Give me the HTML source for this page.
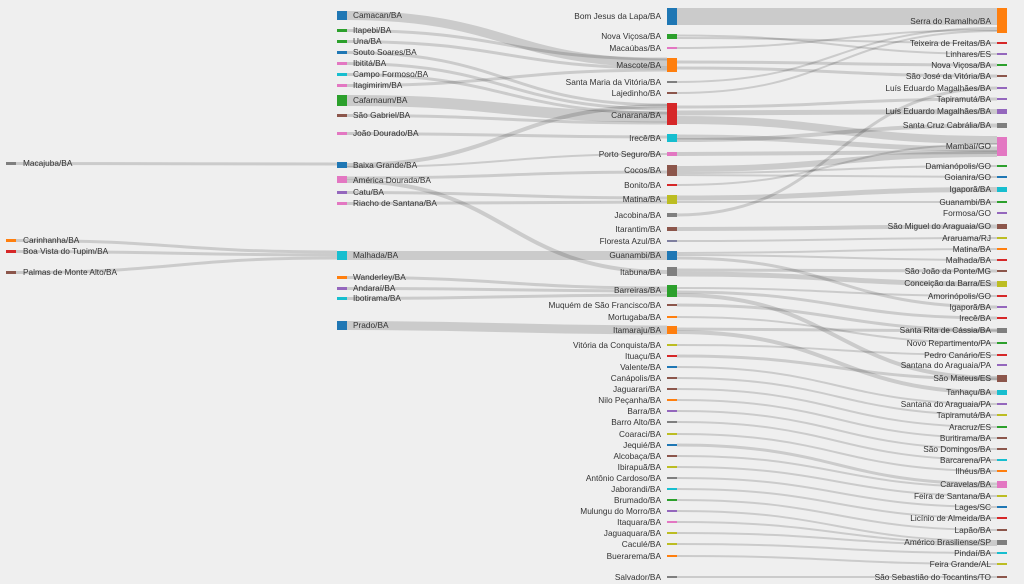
<!DOCTYPE html>
<html><head><meta charset="utf-8"><style>
html,body{margin:0;padding:0;background:#efefef;}
svg{display:block;font-family:"Liberation Sans",sans-serif;font-size:8.3px;fill:#333;}
.e{text-anchor:end;}
</style></head><body>
<svg id="s" width="1024" height="584" viewBox="0 0 1024 584">
<g id="links" fill="none" stroke="rgba(0,0,0,0.15)"></g>
<g id="nodes">
<rect x="6" y="162" width="10" height="3" fill="#7f7f7f"/><text x="23" y="166">Macajuba/BA</text>
<rect x="6" y="239" width="10" height="3" fill="#ff7f0e"/><text x="23" y="243">Carinhanha/BA</text>
<rect x="6" y="250" width="10" height="3" fill="#d62728"/><text x="23" y="254">Boa Vista do Tupim/BA</text>
<rect x="6" y="271" width="10" height="3" fill="#8c564b"/><text x="23" y="275">Palmas de Monte Alto/BA</text>
<rect x="337" y="11" width="10" height="9" fill="#1f77b4"/><text x="353" y="18">Camacan/BA</text>
<rect x="337" y="29" width="10" height="3" fill="#2ca02c"/><text x="353" y="33">Itapebi/BA</text>
<rect x="337" y="40" width="10" height="3" fill="#2ca02c"/><text x="353" y="44">Una/BA</text>
<rect x="337" y="51" width="10" height="3" fill="#1f77b4"/><text x="353" y="55">Souto Soares/BA</text>
<rect x="337" y="62" width="10" height="3" fill="#e377c2"/><text x="353" y="66">Ibititá/BA</text>
<rect x="337" y="73" width="10" height="3" fill="#17becf"/><text x="353" y="77">Campo Formoso/BA</text>
<rect x="337" y="84" width="10" height="3" fill="#e377c2"/><text x="353" y="88">Itagimirim/BA</text>
<rect x="337" y="95" width="10" height="11" fill="#2ca02c"/><text x="353" y="103">Cafarnaum/BA</text>
<rect x="337" y="114" width="10" height="3" fill="#8c564b"/><text x="353" y="118">São Gabriel/BA</text>
<rect x="337" y="132" width="10" height="3" fill="#e377c2"/><text x="353" y="136">João Dourado/BA</text>
<rect x="337" y="162" width="10" height="6" fill="#1f77b4"/><text x="353" y="168">Baixa Grande/BA</text>
<rect x="337" y="176" width="10" height="7" fill="#e377c2"/><text x="353" y="183">América Dourada/BA</text>
<rect x="337" y="191" width="10" height="3" fill="#9467bd"/><text x="353" y="195">Catu/BA</text>
<rect x="337" y="202" width="10" height="3" fill="#e377c2"/><text x="353" y="206">Riacho de Santana/BA</text>
<rect x="337" y="251" width="10" height="9" fill="#17becf"/><text x="353" y="258">Malhada/BA</text>
<rect x="337" y="276" width="10" height="3" fill="#ff7f0e"/><text x="353" y="280">Wanderley/BA</text>
<rect x="337" y="287" width="10" height="3" fill="#9467bd"/><text x="353" y="291">Andaraí/BA</text>
<rect x="337" y="297" width="10" height="3" fill="#17becf"/><text x="353" y="301">Ibotirama/BA</text>
<rect x="337" y="321" width="10" height="9" fill="#1f77b4"/><text x="353" y="328">Prado/BA</text>
<rect x="667" y="8" width="10" height="17" fill="#1f77b4"/><text class="e" x="661" y="19">Bom Jesus da Lapa/BA</text>
<rect x="667" y="34" width="10" height="5" fill="#2ca02c"/><text class="e" x="661" y="39">Nova Viçosa/BA</text>
<rect x="667" y="47" width="10" height="2" fill="#e377c2"/><text class="e" x="661" y="51">Macaúbas/BA</text>
<rect x="667" y="58" width="10" height="14" fill="#ff7f0e"/><text class="e" x="661" y="68">Mascote/BA</text>
<rect x="667" y="81" width="10" height="2" fill="#7f7f7f"/><text class="e" x="661" y="85">Santa Maria da Vitória/BA</text>
<rect x="667" y="92" width="10" height="2" fill="#8c564b"/><text class="e" x="661" y="96">Lajedinho/BA</text>
<rect x="667" y="103" width="10" height="22" fill="#d62728"/><text class="e" x="661" y="118">Canarana/BA</text>
<rect x="667" y="134" width="10" height="8" fill="#17becf"/><text class="e" x="661" y="141">Irecê/BA</text>
<rect x="667" y="152" width="10" height="4" fill="#e377c2"/><text class="e" x="661" y="157">Porto Seguro/BA</text>
<rect x="667" y="165" width="10" height="11" fill="#8c564b"/><text class="e" x="661" y="173">Cocos/BA</text>
<rect x="667" y="184" width="10" height="2" fill="#d62728"/><text class="e" x="661" y="188">Bonito/BA</text>
<rect x="667" y="195" width="10" height="9" fill="#bcbd22"/><text class="e" x="661" y="202">Matina/BA</text>
<rect x="667" y="213" width="10" height="4" fill="#7f7f7f"/><text class="e" x="661" y="218">Jacobina/BA</text>
<rect x="667" y="227" width="10" height="4" fill="#8c564b"/><text class="e" x="661" y="232">Itarantim/BA</text>
<rect x="667" y="240" width="10" height="2" fill="#7f7f9f"/><text class="e" x="661" y="244">Floresta Azul/BA</text>
<rect x="667" y="251" width="10" height="9" fill="#1f77b4"/><text class="e" x="661" y="258">Guanambi/BA</text>
<rect x="667" y="267" width="10" height="9" fill="#7f7f7f"/><text class="e" x="661" y="275">Itabuna/BA</text>
<rect x="667" y="285" width="10" height="12" fill="#2ca02c"/><text class="e" x="661" y="293">Barreiras/BA</text>
<rect x="667" y="304" width="10" height="2" fill="#8c564b"/><text class="e" x="661" y="308">Muquém de São Francisco/BA</text>
<rect x="667" y="316" width="10" height="2" fill="#ff7f0e"/><text class="e" x="661" y="320">Mortugaba/BA</text>
<rect x="667" y="326" width="10" height="8" fill="#ff7f0e"/><text class="e" x="661" y="333">Itamaraju/BA</text>
<rect x="667" y="344" width="10" height="2" fill="#bcbd22"/><text class="e" x="661" y="348">Vitória da Conquista/BA</text>
<rect x="667" y="355" width="10" height="2" fill="#d62728"/><text class="e" x="661" y="359">Ituaçu/BA</text>
<rect x="667" y="366" width="10" height="2" fill="#1f77b4"/><text class="e" x="661" y="370">Valente/BA</text>
<rect x="667" y="377" width="10" height="2" fill="#8c564b"/><text class="e" x="661" y="381">Canápolis/BA</text>
<rect x="667" y="388" width="10" height="2" fill="#8c564b"/><text class="e" x="661" y="392">Jaguarari/BA</text>
<rect x="667" y="399" width="10" height="2" fill="#ff7f0e"/><text class="e" x="661" y="403">Nilo Peçanha/BA</text>
<rect x="667" y="410" width="10" height="2" fill="#9467bd"/><text class="e" x="661" y="414">Barra/BA</text>
<rect x="667" y="421" width="10" height="2" fill="#7f7f7f"/><text class="e" x="661" y="425">Barro Alto/BA</text>
<rect x="667" y="433" width="10" height="2" fill="#bcbd22"/><text class="e" x="661" y="437">Coaraci/BA</text>
<rect x="667" y="444" width="10" height="2" fill="#1f77b4"/><text class="e" x="661" y="448">Jequié/BA</text>
<rect x="667" y="455" width="10" height="2" fill="#8c564b"/><text class="e" x="661" y="459">Alcobaça/BA</text>
<rect x="667" y="466" width="10" height="2" fill="#bcbd22"/><text class="e" x="661" y="470">Ibirapuã/BA</text>
<rect x="667" y="477" width="10" height="2" fill="#7f7f7f"/><text class="e" x="661" y="481">Antônio Cardoso/BA</text>
<rect x="667" y="488" width="10" height="2" fill="#17becf"/><text class="e" x="661" y="492">Jaborandi/BA</text>
<rect x="667" y="499" width="10" height="2" fill="#2ca02c"/><text class="e" x="661" y="503">Brumado/BA</text>
<rect x="667" y="510" width="10" height="2" fill="#9467bd"/><text class="e" x="661" y="514">Mulungu do Morro/BA</text>
<rect x="667" y="521" width="10" height="2" fill="#e377c2"/><text class="e" x="661" y="525">Itaquara/BA</text>
<rect x="667" y="532" width="10" height="2" fill="#bcbd22"/><text class="e" x="661" y="536">Jaguaquara/BA</text>
<rect x="667" y="543" width="10" height="2" fill="#bcbd22"/><text class="e" x="661" y="547">Caculé/BA</text>
<rect x="667" y="555" width="10" height="2" fill="#ff7f0e"/><text class="e" x="661" y="559">Buerarema/BA</text>
<rect x="667" y="576" width="10" height="2" fill="#7f7f7f"/><text class="e" x="661" y="580">Salvador/BA</text>
<rect x="997" y="8" width="10" height="25" fill="#ff7f0e"/><text class="e" x="991" y="24">Serra do Ramalho/BA</text>
<rect x="997" y="42" width="10" height="2" fill="#d62728"/><text class="e" x="991" y="46">Teixeira de Freitas/BA</text>
<rect x="997" y="53" width="10" height="2" fill="#9467bd"/><text class="e" x="991" y="57">Linhares/ES</text>
<rect x="997" y="64" width="10" height="2" fill="#2ca02c"/><text class="e" x="991" y="68">Nova Viçosa/BA</text>
<rect x="997" y="75" width="10" height="2" fill="#8c564b"/><text class="e" x="991" y="79">São José da Vitória/BA</text>
<rect x="997" y="87" width="10" height="2" fill="#9467bd"/><text class="e" x="991" y="91">Luís Eduardo Magalhães/BA</text>
<rect x="997" y="98" width="10" height="2" fill="#9467bd"/><text class="e" x="991" y="102">Tapiramutá/BA</text>
<rect x="997" y="109" width="10" height="5" fill="#9467bd"/><text class="e" x="991" y="114">Luís Eduardo Magalhães/BA</text>
<rect x="997" y="123" width="10" height="5" fill="#7f7f7f"/><text class="e" x="991" y="128">Santa Cruz Cabrália/BA</text>
<rect x="997" y="137" width="10" height="19" fill="#e377c2"/><text class="e" x="991" y="149">Mambaí/GO</text>
<rect x="997" y="165" width="10" height="2" fill="#2ca02c"/><text class="e" x="991" y="169">Damianópolis/GO</text>
<rect x="997" y="176" width="10" height="2" fill="#1f77b4"/><text class="e" x="991" y="180">Goianira/GO</text>
<rect x="997" y="187" width="10" height="5" fill="#17becf"/><text class="e" x="991" y="192">Igaporã/BA</text>
<rect x="997" y="201" width="10" height="2" fill="#2ca02c"/><text class="e" x="991" y="205">Guanambi/BA</text>
<rect x="997" y="212" width="10" height="2" fill="#9467bd"/><text class="e" x="991" y="216">Formosa/GO</text>
<rect x="997" y="224" width="10" height="5" fill="#8c564b"/><text class="e" x="991" y="229">São Miguel do Araguaia/GO</text>
<rect x="997" y="237" width="10" height="2" fill="#bcbd22"/><text class="e" x="991" y="241">Araruama/RJ</text>
<rect x="997" y="248" width="10" height="2" fill="#ff7f0e"/><text class="e" x="991" y="252">Matina/BA</text>
<rect x="997" y="259" width="10" height="2" fill="#d62728"/><text class="e" x="991" y="263">Malhada/BA</text>
<rect x="997" y="270" width="10" height="2" fill="#8c564b"/><text class="e" x="991" y="274">São João da Ponte/MG</text>
<rect x="997" y="281" width="10" height="6" fill="#bcbd22"/><text class="e" x="991" y="286">Conceição da Barra/ES</text>
<rect x="997" y="295" width="10" height="2" fill="#d62728"/><text class="e" x="991" y="299">Amorinópolis/GO</text>
<rect x="997" y="306" width="10" height="2" fill="#9467bd"/><text class="e" x="991" y="310">Igaporã/BA</text>
<rect x="997" y="317" width="10" height="2" fill="#d62728"/><text class="e" x="991" y="321">Irecê/BA</text>
<rect x="997" y="328" width="10" height="5" fill="#7f7f7f"/><text class="e" x="991" y="333">Santa Rita de Cássia/BA</text>
<rect x="997" y="342" width="10" height="2" fill="#2ca02c"/><text class="e" x="991" y="346">Novo Repartimento/PA</text>
<rect x="997" y="354" width="10" height="2" fill="#d62728"/><text class="e" x="991" y="358">Pedro Canário/ES</text>
<rect x="997" y="364" width="10" height="2" fill="#9467bd"/><text class="e" x="991" y="368">Santana do Araguaia/PA</text>
<rect x="997" y="375" width="10" height="7" fill="#8c564b"/><text class="e" x="991" y="381">São Mateus/ES</text>
<rect x="997" y="390" width="10" height="5" fill="#17becf"/><text class="e" x="991" y="395">Tanhaçu/BA</text>
<rect x="997" y="403" width="10" height="2" fill="#9467bd"/><text class="e" x="991" y="407">Santana do Araguaia/PA</text>
<rect x="997" y="414" width="10" height="2" fill="#bcbd22"/><text class="e" x="991" y="418">Tapiramutá/BA</text>
<rect x="997" y="426" width="10" height="2" fill="#2ca02c"/><text class="e" x="991" y="430">Aracruz/ES</text>
<rect x="997" y="437" width="10" height="2" fill="#8c564b"/><text class="e" x="991" y="441">Buritirama/BA</text>
<rect x="997" y="448" width="10" height="2" fill="#8c564b"/><text class="e" x="991" y="452">São Domingos/BA</text>
<rect x="997" y="459" width="10" height="2" fill="#17becf"/><text class="e" x="991" y="463">Barcarena/PA</text>
<rect x="997" y="470" width="10" height="2" fill="#ff7f0e"/><text class="e" x="991" y="474">Ilhéus/BA</text>
<rect x="997" y="481" width="10" height="7" fill="#e377c2"/><text class="e" x="991" y="487">Caravelas/BA</text>
<rect x="997" y="495" width="10" height="2" fill="#bcbd22"/><text class="e" x="991" y="499">Feira de Santana/BA</text>
<rect x="997" y="506" width="10" height="2" fill="#1f77b4"/><text class="e" x="991" y="510">Lages/SC</text>
<rect x="997" y="517" width="10" height="2" fill="#d62728"/><text class="e" x="991" y="521">Licínio de Almeida/BA</text>
<rect x="997" y="529" width="10" height="2" fill="#8c564b"/><text class="e" x="991" y="533">Lapão/BA</text>
<rect x="997" y="540" width="10" height="5" fill="#7f7f7f"/><text class="e" x="991" y="545">Américo Brasiliense/SP</text>
<rect x="997" y="552" width="10" height="2" fill="#17becf"/><text class="e" x="991" y="556">Pindaí/BA</text>
<rect x="997" y="563" width="10" height="2" fill="#bcbd22"/><text class="e" x="991" y="567">Feira Grande/AL</text>
<rect x="997" y="576" width="10" height="2" fill="#8c564b"/><text class="e" x="991" y="580">São Sebastião do Tocantins/TO</text>
</g>
</svg>
<script>
var L=[
[16,163.5,337,164,3],[16,240.5,337,252,3],[16,251.5,337,255,3],[16,272.5,337,258,3],
[347,15.5,667,63,9],[347,30.5,667,59,3],[347,41.5,667,68,3],[347,52.5,667,105,3],[347,63.5,667,109,3],
[347,74.5,667,113,3],[347,85.5,667,70,3],[347,100.5,667,117,11],[347,115.5,667,123,3],[347,133.5,667,137,3],
[347,165,667,106,4],[347,167,667,154,2],[347,178,667,172,3],[347,181,667,272,4],[347,192.5,667,198,3],[347,203.5,667,202,3],
[347,255.5,667,255.5,9],[347,277.5,667,288,3],[347,288.5,667,291,3],[347,298.5,667,295,3],[347,325.5,667,330,9],
[677,16.5,997,16.5,17],[677,35.5,997,54,2],[677,38,997,43,2],[677,48,997,30,2],[677,62,997,65,3],[677,68,997,76,3],
[677,82,997,28,2],[677,93,997,31,2],[677,107,997,99,3],[677,113,997,111.5,5],[677,120,997,140,8],[677,137,997,149,5],
[677,140,997,125.5,4],[677,154,997,152,4],[677,169,997,154,6],[677,173,997,166,2],[677,175,997,177,2],[677,185,997,144,2],
[677,198,997,189.5,5],[677,202,997,202,2],[677,215,997,88,3],[677,229,997,226.5,4],[677,241,997,238,2],
[677,253,997,249,2],[677,255,997,260,2],[677,258,997,307,3],[677,270,997,271,3],[677,274,997,284,5],
[677,288,997,296,2],[677,292,997,318,3],[677,295,997,378,4],[677,305,997,330,3],[677,317,997,343,2],
[677,329,997,331,3],[677,332,997,392.5,4],[677,345,997,355,2],[677,356,997,379,3],[677,367,997,404,2],
[677,378,997,415,2],[677,389,997,427,2],[677,400,997,438,2],[677,411,997,449,2],[677,422,997,460,2],
[677,434,997,471,2],[677,445,997,484,3],[677,456,997,487,2],[677,467,997,496,2],[677,478,997,507,2],
[677,489,997,518,2],[677,500,997,530,2],[677,511,997,541,2],[677,522,997,543,2],[677,533,997,545,2],
[677,544,997,553,2],[677,556,997,564,2],[677,577,997,577,2]
];
var g=document.getElementById('links'),h='';
L.forEach(function(l){var m=(l[0]+l[2])/2;h+='<path d="M'+l[0]+' '+l[1]+'C'+m+' '+l[1]+' '+m+' '+l[3]+' '+l[2]+' '+l[3]+'" stroke-width="'+l[4]+'"/>';});
g.innerHTML=h;
</script>
</body></html>
